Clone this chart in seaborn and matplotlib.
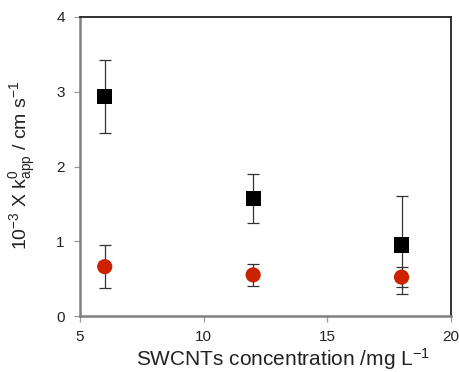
import numpy as np
import pandas as pd
import matplotlib
matplotlib.use("Agg")
import matplotlib.pyplot as plt
import seaborn as sns

conc = [6, 12, 18]
black_vals = [2.94, 1.57, 0.95]
black_err = [0.49, 0.33, 0.66]
red_vals = [0.66, 0.55, 0.52]
red_err = [0.29, 0.15, 0.13]

sns.set_style("white")
plt.rcParams['font.family'] = ['Liberation Sans', 'DejaVu Sans']
plt.rcParams['mathtext.default'] = 'regular'

df = pd.DataFrame({
    "conc": conc * 2,
    "k": black_vals + red_vals,
    "err": black_err + red_err,
    "series": ["black"] * 3 + ["red"] * 3,
})

fig = plt.figure(figsize=(4.59, 3.72), dpi=100)
ax = fig.add_axes([80/459, 1 - 316/372, (451-80)/459, (316-17)/372])

ax.errorbar(conc, black_vals, yerr=black_err, fmt='none', ecolor='#333333',
            elinewidth=0.9, capsize=4.5, capthick=0.9, zorder=2)
ax.errorbar(conc, red_vals, yerr=red_err, fmt='none', ecolor='#333333',
            elinewidth=0.9, capsize=4.5, capthick=0.9, zorder=2)

sns.scatterplot(data=df, x="conc", y="k", hue="series", style="series",
                palette={"black": "#000000", "red": "#cc2200"},
                markers={"black": "s", "red": "o"}, s=120, linewidth=0,
                legend=False, ax=ax, zorder=3)

ax.set_xlim(5, 20)
ax.set_ylim(0, 4)
ax.set_xticks([5, 10, 15, 20])
ax.set_yticks([0, 1, 2, 3, 4])
ax.tick_params(axis='both', labelsize=11, colors='#999999', length=4,
               width=0.9, direction='out', bottom=True, left=True)
ax.tick_params(axis='x', pad=6)
ax.tick_params(axis='y', pad=7)
ax.tick_params(axis='both', labelcolor='#222222')
ax.set_xlabel("SWCNTs concentration /mg L$^{-1}$", fontsize=15, color='#222222',
              va='baseline')
ax.xaxis.set_label_coords((283 - 80) / 371, (316 - 366) / 299)
ax.set_ylabel("10$^{-3}$ X k$^{0}_{app}$ / cm s$^{-1}$", fontsize=14, color='#222222',
              va='center')
ax.yaxis.set_label_coords((23 - 80) / 371, (316 - 165) / 299)

for side in ['left', 'bottom']:
    ax.spines[side].set_color('#808080')
    ax.spines[side].set_linewidth(1.8)
for side in ['top', 'right']:
    ax.spines[side].set_color('#222222')
    ax.spines[side].set_linewidth(1.3)
    ax.spines[side].set_visible(True)

fig.savefig("out.png", dpi=100)
